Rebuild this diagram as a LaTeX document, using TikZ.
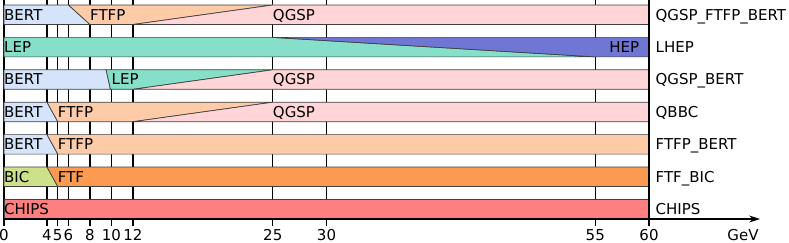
\documentclass[tikz,border=0pt]{standalone}
\usepackage{fontspec}
\setmainfont{DejaVu Sans}
\usetikzlibrary{arrows.meta}
\definecolor{cBERT}{HTML}{D5E3FB}
\definecolor{cFTFP}{HTML}{FDCBA8}
\definecolor{cQGSP}{HTML}{FFD5D7}
\definecolor{cLEP}{HTML}{86DFC9}
\definecolor{cHEP}{HTML}{6F76D3}
\definecolor{cBIC}{HTML}{CDE08A}
\definecolor{cFTF}{HTML}{FD9A52}
\definecolor{cCHIPS}{HTML}{FE7F80}
\begin{document}
\begin{tikzpicture}[x=10.75pt,y=-1pt,
  seg/.style={draw=black!75,line width=0.7pt},
  lbl/.style={anchor=base west,inner sep=0pt,font=\fontsize{15}{17}\selectfont},
  rlbl/.style={anchor=base east,inner sep=0pt,font=\fontsize{15}{17}\selectfont},
  ticklbl/.style={anchor=base,inner sep=0pt,font=\fontsize{15}{17}\selectfont},
  gridline/.style={line width=1.2pt,black}]
\useasboundingbox (-0.3721,0) rectangle (73.0233,243);
% grid lines
\foreach \g in {0,4,5,6,8,10,12,25,30,55,60}{
  \draw[gridline] (\g,0) -- (\g,226);
  \node[ticklbl] (t\g) at (\g,240.8) {\g};
}
% Row 1: QGSP_FTFP_BERT
\filldraw[seg,fill=cBERT] (0,5) -- (6,5) -- (8,24.5) -- (0,24.5) -- cycle;
\filldraw[seg,fill=cFTFP] (6,5) -- (25,5) -- (12,24.5) -- (8,24.5) -- cycle;
\filldraw[seg,fill=cQGSP] (25,5) -- (60,5) -- (60,24.5) -- (12,24.5) -- cycle;
\node[lbl] (r1a) at (0,20.2) {BERT};
\node[lbl] (r1b) at (8,20.2) {FTFP};
\node[lbl] (r1c) at (25,20.2) {QGSP};
\node[lbl] (r1n) at (60.6,20.2) {QGSP\_FTFP\_BERT};
% Row 2: LHEP
\filldraw[seg,fill=cLEP] (0,37.4) -- (25,37.4) -- (55,56.9) -- (0,56.9) -- cycle;
\filldraw[seg,fill=cHEP] (25,37.4) -- (60,37.4) -- (60,56.9) -- (55,56.9) -- cycle;
\node[lbl] (r2a) at (0,52.6) {LEP};
\node[rlbl] (r2b) at (59.1,52.6) {HEP};
\node[lbl] (r2n) at (60.6,52.6) {LHEP};
% Row 3: QGSP_BERT
\filldraw[seg,fill=cBERT] (0,69.8) -- (9.5,69.8) -- (9.9,89.3) -- (0,89.3) -- cycle;
\filldraw[seg,fill=cLEP] (9.5,69.8) -- (25,69.8) -- (12,89.3) -- (9.9,89.3) -- cycle;
\filldraw[seg,fill=cQGSP] (25,69.8) -- (60,69.8) -- (60,89.3) -- (12,89.3) -- cycle;
\node[lbl] (r3a) at (0,85) {BERT};
\node[lbl] (r3b) at (10,85) {LEP};
\node[lbl] (r3c) at (25,85) {QGSP};
\node[lbl] (r3n) at (60.6,85) {QGSP\_BERT};
% Row 4: QBBC
\filldraw[seg,fill=cBERT] (0,102.2) -- (4,102.2) -- (5,121.7) -- (0,121.7) -- cycle;
\filldraw[seg,fill=cFTFP] (4,102.2) -- (25,102.2) -- (12,121.7) -- (5,121.7) -- cycle;
\filldraw[seg,fill=cQGSP] (25,102.2) -- (60,102.2) -- (60,121.7) -- (12,121.7) -- cycle;
\node[lbl] (r4a) at (0,117.4) {BERT};
\node[lbl] (r4b) at (5,117.4) {FTFP};
\node[lbl] (r4c) at (25,117.4) {QGSP};
\node[lbl] (r4n) at (60.6,117.4) {QBBC};
% Row 5: FTFP_BERT
\filldraw[seg,fill=cBERT] (0,134.6) -- (4,134.6) -- (5,154.1) -- (0,154.1) -- cycle;
\filldraw[seg,fill=cFTFP] (4,134.6) -- (60,134.6) -- (60,154.1) -- (5,154.1) -- cycle;
\node[lbl] (r5a) at (0,149.8) {BERT};
\node[lbl] (r5b) at (5,149.8) {FTFP};
\node[lbl] (r5n) at (60.6,149.8) {FTFP\_BERT};
% Row 6: FTF_BIC
\filldraw[seg,fill=cBIC] (0,167) -- (4,167) -- (5,186.5) -- (0,186.5) -- cycle;
\filldraw[seg,fill=cFTF] (4,167) -- (60,167) -- (60,186.5) -- (5,186.5) -- cycle;
\node[lbl] (r6a) at (0,182.2) {BIC};
\node[lbl] (r6b) at (5,182.2) {FTF};
\node[lbl] (r6n) at (60.6,182.2) {FTF\_BIC};
% Row 7: CHIPS
\filldraw[seg,fill=cCHIPS] (0,199.4) rectangle (60,219);
\node[lbl] (r7a) at (0,214.6) {CHIPS};
\node[lbl] (r7n) at (60.6,214.6) {CHIPS};
% right boundary line on top
\draw[gridline] (60,0) -- (60,226);
% axis
\coordinate (ax0) at (0,219);
\coordinate (ax1) at (70.33,219);
\draw[line width=1.1pt,-{Stealth[length=11pt,width=7pt]}] (ax0) -- (ax1);
\node[ticklbl] (gev) at (68.74,240.8) {GeV};
\end{tikzpicture}
\end{document}
